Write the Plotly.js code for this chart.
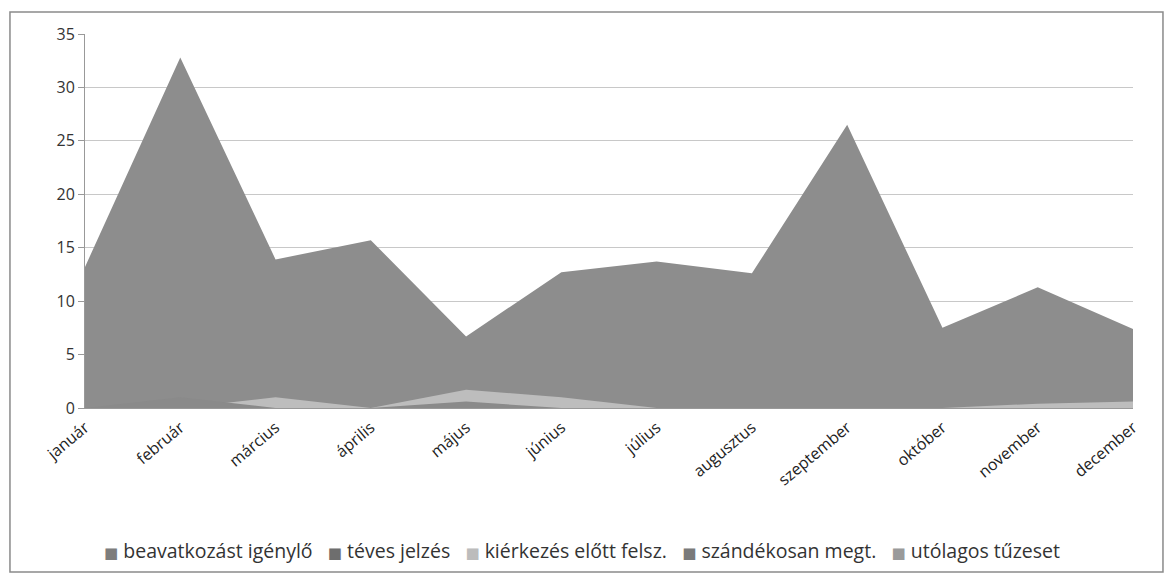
<!DOCTYPE html>
<html>
<head>
<meta charset="utf-8">
<script src="https://cdn.plot.ly/plotly-3.0.1.min.js"></script>
<style>html,body{margin:0;padding:0;background:#fff;}#chart{width:1171px;height:576px;}</style>
</head>
<body>
<div id="chart"></div>
<script>
var months = ["január","február","március","április","május","június","július","augusztus","szeptember","október","november","december"];
var seriesNames = ["beavatkozást igénylő","téves jelzés","kiérkezés előtt felsz.","szándékosan megt.","utólagos tűzeset"];
var beavatkozas = [13.2, 32.8, 13.9, 15.7, 6.7, 12.7, 13.7, 12.6, 26.5, 7.5, 11.3, 7.4];
var teves = [0, 0, 0, 0, 0, 0, 0, 0, 0, 0, 0, 0];
var kierkezes = [0, 0, 1, 0, 1.7, 1, 0, 0, 0, 0, 0.4, 0.6];
var szandekos = [0, 1, 0, 0, 0.6, 0, 0, 0, 0, 0, 0, 0];
var utolagos = [0, 0, 0, 0, 0, 0, 0, 0, 0, 0, 0, 0];
var yTicks = [0, 5, 10, 15, 20, 25, 30, 35];

var allSeries = [beavatkozas, teves, kierkezes, szandekos, utolagos];
var fills = ["#8d8d8d", "#7a7a7a", "#bdbdbd", "#8a8a8a", "#a3a3a3"];
var legendColors = ["#7d7d7d", "#6e6e6e", "#bcbcbc", "#7a7a7a", "#9a9a9a"];
var traces = allSeries.map(function(vals, i){
  return {
    type: "scatter", mode: "lines", x: months, y: vals, name: seriesNames[i],
    fill: "tozeroy", fillcolor: fills[i], line: {width: 0, color: fills[i]},
    showlegend: false, hoverinfo: "x+y+name"
  };
});

var legendText = seriesNames.map(function(n, i){
  return '<span style="color:' + legendColors[i] + ';font-size:15px">■</span> ' + n;
}).join('&nbsp;&nbsp;&nbsp;');

var font = "'Open Sans', Lato, 'DejaVu Sans', sans-serif";
var layout = {
  width: 1171, height: 576,
  margin: {l: 85, r: 38, t: 34, b: 168},
  paper_bgcolor: "#fff", plot_bgcolor: "#fff",
  font: {family: font, size: 16, color: "#333"},
  showlegend: false,
  xaxis: {type: "category", range: [0, 11], tickangle: -40, showgrid: false, automargin: false,
          showline: true, linecolor: "#999", linewidth: 1, ticks: "outside", ticklen: 3, tickcolor: "rgba(0,0,0,0)", zeroline: false,
          tickfont: {family: font, size: 16, color: "#222"}},
  yaxis: {range: [0, 35], tickvals: yTicks, showgrid: true, gridcolor: "#c8c8c8", gridwidth: 1, automargin: false,
          showline: true, linecolor: "#999", linewidth: 1, ticks: "outside", ticklen: 6, tickcolor: "#999",
          zeroline: false, tickfont: {family: font, size: 16, color: "#333"}},
  annotations: [{xref: "paper", yref: "paper", x: 0.474, y: -0.381, xanchor: "center", yanchor: "middle",
                 showarrow: false, text: legendText, font: {family: font, size: 19.5, color: "#333"}}],
  shapes: [{type: "rect", xref: "paper", yref: "paper",
            x0: -0.0716, x1: 1.0286, y0: -0.4385, y1: 1.0588,
            line: {color: "#8a8a8a", width: 1.5}, fillcolor: "rgba(0,0,0,0)", layer: "below"}]
};
Plotly.newPlot("chart", traces, layout, {displayModeBar: false, staticPlot: true});
</script>
</body>
</html>
